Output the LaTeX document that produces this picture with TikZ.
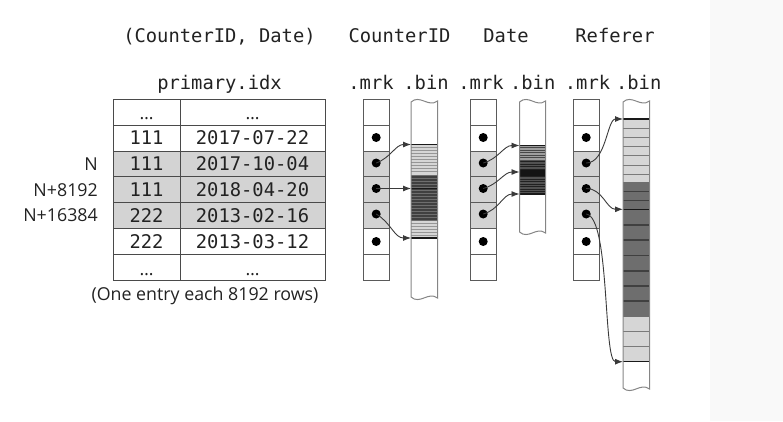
\documentclass[tikz,border=0pt]{standalone}
\usepackage{fontspec}
\setmainfont{Open Sans}
\setmonofont{DejaVu Sans Mono}
\usetikzlibrary{arrows.meta}
\definecolor{panelc}{HTML}{F9F9F9}
\definecolor{txt}{HTML}{222222}
\definecolor{shadec}{HTML}{D3D3D3}
\definecolor{gridc}{HTML}{4A4A4A}
\definecolor{mrkc}{HTML}{5A5A5A}
\definecolor{binc}{HTML}{858585}
\definecolor{arrc}{HTML}{3A3A3A}
\definecolor{liteg}{HTML}{D6D6D6}
\definecolor{litel}{HTML}{969696}
\definecolor{darkg}{HTML}{6E6E6E}
\definecolor{darkl}{HTML}{404040}
\definecolor{refl}{HTML}{7A7A7A}
\newcommand\binoutline[3]{%
  \draw[binedge] (#1,102) .. controls +(9,-8) and +(-9,7) .. (#2,101)
    -- (#2,#3+1) .. controls +(-9,-7) and +(9,8) .. (#1,#3) -- cycle;}
\begin{document}
\begin{tikzpicture}[x=1pt,y=-1pt,
  mono/.style={font=\fontsize{18.8}{22}\selectfont\ttfamily, text=txt, inner sep=0pt},
  sans/.style={font=\fontsize{17.8}{21}\selectfont, text=txt, inner sep=0pt},
  grid/.style={draw=gridc, line width=1pt},
  mrkgrid/.style={draw=mrkc, line width=1pt},
  binedge/.style={draw=binc, line width=1pt},
  dotn/.style={circle, fill=black, inner sep=0pt, minimum size=9pt},
  arr/.style={draw=arrc, line width=0.9pt, -{Latex[length=8pt,width=6pt]}},
  litestripe/.style={draw=litel, line width=1.1pt},
  darkstripe/.style={draw=darkl, line width=1.1pt},
  blk/.style={draw=black!90, line width=1.3pt},
]
\useasboundingbox (0,0) rectangle (783,421);
\fill[panelc] (710,0) rectangle (783,421);

% headings
\node[mono,anchor=base] (ttl) at (219.5,42.5) {(CounterID, Date)};
\node[mono,anchor=base] (tc) at (399.5,42.5) {CounterID};
\node[mono,anchor=base] (td) at (506,42.5) {Date};
\node[mono,anchor=base] (tr) at (615,42.5) {Referer};
\node[mono,anchor=base] (tp) at (219.5,89.5) {primary.idx};
\node[mono,anchor=base] (h1) at (371,89.5) {.mrk};
\node[mono,anchor=base] (h2) at (426,89.5) {.bin};
\node[mono,anchor=base] (h3) at (481,89.5) {.mrk};
\node[mono,anchor=base] (h4) at (532.7,89.5) {.bin};
\node[mono,anchor=base] (h5) at (587.5,89.5) {.mrk};
\node[mono,anchor=base] (h6) at (638.7,89.5) {.bin};

% primary index table
\fill[shadec] (113,151.1) rectangle (325,228.5);
\draw[grid] (113,99.5) rectangle (325,280.1);
\foreach \y in {125.3,151.1,176.9,202.7,228.5,254.3} \draw[grid] (113,\y) -- (325,\y);
\draw[grid] (180,99.5) -- (180,280.1);

\node[sans,anchor=base] (e1) at (146.5,119.5) {…};
\node[sans,anchor=base] (e2) at (252.5,119.5) {…};
\node[mono,anchor=base] (k1) at (146.5,144.9) {111};
\node[mono,anchor=base] (d1) at (252.5,144.9) {2017-07-22};
\node[mono,anchor=base] (k2) at (146.5,170.7) {111};
\node[mono,anchor=base] (d2) at (252.5,170.7) {2017-10-04};
\node[mono,anchor=base] (k3) at (146.5,196.5) {111};
\node[mono,anchor=base] (d3) at (252.5,196.5) {2018-04-20};
\node[mono,anchor=base] (k4) at (146.5,222.3) {222};
\node[mono,anchor=base] (d4) at (252.5,222.3) {2013-02-16};
\node[mono,anchor=base] (k5) at (146.5,248.1) {222};
\node[mono,anchor=base] (d5) at (252.5,248.1) {2013-03-12};
\node[sans,anchor=base] (e3) at (146.5,275.5) {…};
\node[sans,anchor=base] (e4) at (252.5,275.5) {…};

\node[sans,anchor=base east] (rN) at (98,170) {N};
\node[sans,anchor=base east] (rN1) at (98,196.5) {N+8192};
\node[sans,anchor=base east] (rN2) at (98,221.7) {N+16384};
\node[sans,anchor=base] (cap) at (205,300) {(One entry each 8192 rows)};

% mark files
\foreach \x in {363,470,573} {
  \fill[shadec] (\x,151.1) rectangle ++(26.5,77.4);
  \draw[mrkgrid] (\x,99.5) rectangle ++(26.5,180.6);
  \foreach \y in {125.3,151.1,176.9,202.7,228.5,254.3} \draw[mrkgrid] (\x,\y) -- ++(26.5,0);
}

% CounterID.bin stripes
\fill[liteg] (411,144.5) rectangle (437.5,175);
\foreach \y in {147.5,150.5,...,173} \draw[litestripe] (411,\y) -- (437.5,\y);
\fill[darkg] (411,175) rectangle (437.5,221);
\foreach \y in {177,180,...,220} \draw[darkstripe] (411,\y) -- (437.5,\y);
\fill[liteg] (411,221) rectangle (437.5,238);
\foreach \y in {223.5,226.5,...,236} \draw[litestripe] (411,\y) -- (437.5,\y);
\draw[blk] (411,144.5) -- (437.5,144.5);
\draw[blk] (411,188.5) -- (437.5,188.5);
\draw[blk] (411,238) -- (437.5,238);
\binoutline{411}{437.5}{297}

% Date.bin stripes
\fill[black!38] (519.5,145.5) rectangle (545.5,160);
\foreach \y in {147.5,150,...,159} \draw[draw=black!72, line width=1pt] (519.5,\y) -- (545.5,\y);
\fill[black!68] (519.5,160) rectangle (545.5,194);
\foreach \y in {161.5,164,...,193} \draw[draw=black!87, line width=1pt] (519.5,\y) -- (545.5,\y);
\fill[black!92] (519.5,170) rectangle (545.5,176);
\draw[blk] (519.5,145.5) -- (545.5,145.5);
\draw[blk] (519.5,194) -- (545.5,194);
\binoutline{519.5}{545.5}{232}

% Referer.bin stripes
\fill[liteg] (623,119) rectangle (649.5,181.7);
\foreach \y in {128.3,137.3,146.7,155.7,165,174.3} \draw[draw=refl, line width=1pt] (623,\y) -- (649.5,\y);
\fill[darkg] (623,181.7) rectangle (649.5,316.7);
\foreach \y in {191.7,200.7,225,240,255.7,271,286,301} \draw[darkstripe] (623,\y) -- (649.5,\y);
\fill[liteg] (623,316.7) rectangle (649.5,361.7);
\foreach \y in {331.7,346.7} \draw[draw=refl, line width=1pt] (623,\y) -- (649.5,\y);
\draw[blk] (623,119) -- (649.5,119);
\draw[blk] (623,209.3) -- (649.5,209.3);
\draw[blk] (623,361.7) -- (649.5,361.7);
\binoutline{623}{649.5}{388}

% arrow targets
\coordinate (cb1) at (411,144.5);
\coordinate (cb2) at (411,188.5);
\coordinate (cb3) at (411,238);
\coordinate (db1) at (519.5,145.5);
\coordinate (db2) at (519.5,172);
\coordinate (db3) at (519.5,194);
\coordinate (rb1) at (623,119);
\coordinate (rb2) at (623,209.3);
\coordinate (rb3) at (623,361.7);

% marks (dots)
\foreach \c/\x in {a/376.2,b/483.2,c/586.2} {
  \node[dotn] (\c1) at (\x,137.5) {};
  \node[dotn] (\c2) at (\x,163) {};
  \node[dotn] (\c3) at (\x,188.5) {};
  \node[dotn] (\c4) at (\x,214) {};
  \node[dotn] (\c5) at (\x,241.5) {};
}

% connectors
\draw[arr] (a2.center) to[out=20,in=180] (cb1);
\draw[arr] (a3.center) -- (cb2);
\draw[arr] (a4.center) to[out=-30,in=180] (cb3);
\draw[arr] (b2.center) to[out=15,in=180] (db1);
\draw[arr] (b3.center) to[out=15,in=180] (db2);
\draw[arr] (b4.center) to[out=15,in=180] (db3);
\draw[arr] (c2.center) .. controls +(20,0) and +(-16,0) .. (rb1);
\draw[arr] (c3.center) to[out=0,in=180] (rb2);
\draw[arr] (c4.center) .. controls +(24,3) and +(-20,0) .. (rb3);
\end{tikzpicture}
\end{document}
